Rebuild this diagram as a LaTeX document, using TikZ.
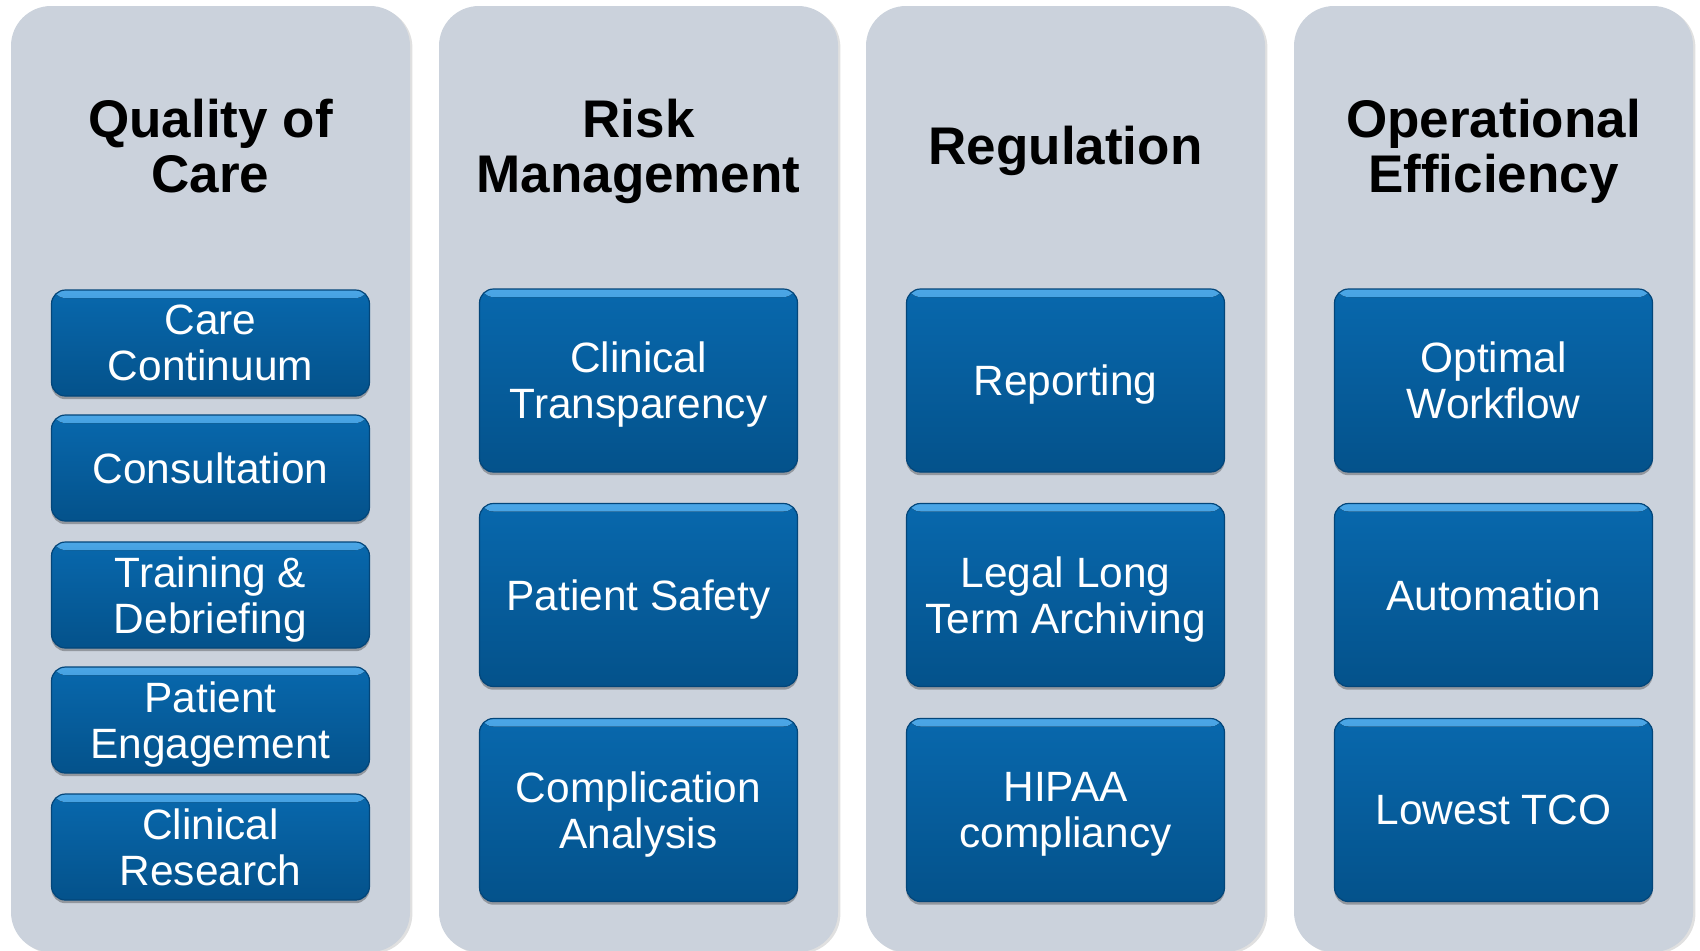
\documentclass[tikz,border=0pt]{standalone}
\usepackage{fontspec}
\setmainfont{Liberation Sans}
\definecolor{panelfill}{HTML}{CBD2DC}
\definecolor{boxtop}{HTML}{0868AD}
\definecolor{boxbot}{HTML}{04528B}
\definecolor{boxrim}{HTML}{4BA6E6}
\definecolor{boxedge}{HTML}{03467A}
\tikzset{
  panel/.style={fill=panelfill, rounded corners=20pt, minimum width=199.5pt,
    minimum height=473pt, inner sep=0pt, draw=none,
    preaction={fill=black, opacity=0.12, transform canvas={xshift=1.2pt, yshift=-0.8pt}}},
  head/.style={font=\bfseries\fontsize{26.5}{27.5}\selectfont, align=center, inner sep=0pt},
  bluebox/.style={rounded corners=7pt, minimum width=159pt, inner sep=0pt,
    top color=boxtop, bottom color=boxbot, draw=boxedge, line width=0.6pt,
    text=white, align=center, font=\fontsize{21.2}{23}\selectfont, text depth=0pt,
    path picture={\fill[top color=boxrim, bottom color=boxtop]
      (path picture bounding box.north west) rectangle ([yshift=-4pt]path picture bounding box.north east);},
    preaction={fill=black, opacity=0.28, transform canvas={yshift=-1.6pt}}},
  smallbox/.style={bluebox, minimum height=53pt},
  bigbox/.style={bluebox, minimum height=91.5pt},
}
\begin{document}
\begin{tikzpicture}[x=0.5pt,y=-0.5pt]
\useasboundingbox (0,0) rectangle (1700,950);
\fill[white] (0,0) rectangle (1700,950);
% panels
\node[panel] (p1) at (210.5,479) {};
\node[panel] (p2) at (638.5,479) {};
\node[panel] (p3) at (1065.5,479) {};
\node[panel] (p4) at (1493.5,479) {};
% headers
\node[head, anchor=base] (h1) at (210.5,192) {Quality of\\Care};
\node[head, anchor=base] (h2) at (638.5,192) {Risk\\Management};
\node[head, anchor=base] (h3) at (1065.5,164.5) {Regulation};
\node[head, anchor=base] (h4) at (1493.5,192) {Operational\\Efficiency};
% column 1
\node[smallbox] (a1) at (210.5,343) {Care\\Continuum};
\node[smallbox] (a2) at (210.5,468) {Consultation};
\node[smallbox] (a3) at (210.5,595) {Training \&\\Debriefing};
\node[smallbox] (a4) at (210.5,720) {Patient\\Engagement};
\node[smallbox] (a5) at (210.5,847) {Clinical\\Research};
% column 2
\node[bigbox] (b1) at (638.5,380.5) {Clinical\\Transparency};
\node[bigbox] (b2) at (638.5,595) {Patient Safety};
\node[bigbox] (b3) at (638.5,810) {Complication\\Analysis};
% column 3
\node[bigbox] (c1) at (1065.5,380.5) {Reporting};
\node[bigbox] (c2) at (1065.5,595) {Legal Long\\Term Archiving};
\node[bigbox] (c3) at (1065.5,810) {HIPAA\\compliancy};
% column 4
\node[bigbox] (d1) at (1493.5,380.5) {Optimal\\Workflow};
\node[bigbox] (d2) at (1493.5,595) {Automation};
\node[bigbox] (d3) at (1493.5,810) {Lowest TCO};
\end{tikzpicture}
\end{document}
